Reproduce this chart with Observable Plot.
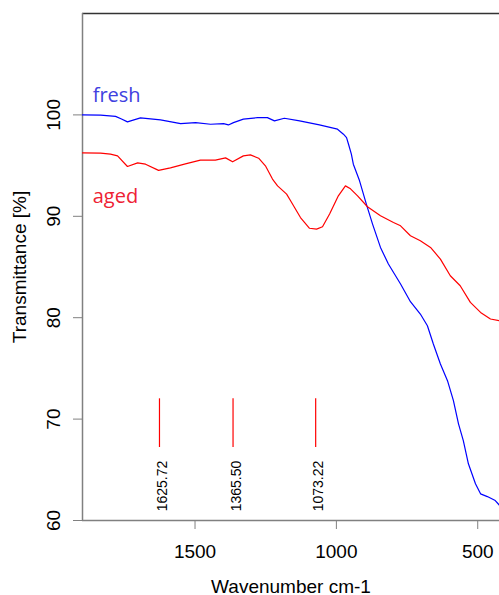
<!DOCTYPE html>
<html><head><meta charset="utf-8">
<script src="https://cdn.jsdelivr.net/npm/d3@7"></script>
<script src="https://cdn.jsdelivr.net/npm/@observablehq/plot@0.6"></script>
<style>html,body{margin:0;padding:0;background:#fff}#chart svg{display:block}</style>
</head><body><div id="chart"></div>
<script>
const freshWn = [1898,1834,1781,1760,1739,1693,1622,1551,1498,1445,1399,1382,1364,1329,1279,1244,1219,1184,1130,1060,996,975,964,957,947,940,918,894,872,844,816,773,738,703,678,657,632,607,586,568,551,533,508,490,466,438,423];
const freshT  = [100.0,99.97,99.85,99.6,99.31,99.70,99.51,99.14,99.24,99.08,99.14,99.01,99.24,99.58,99.73,99.73,99.41,99.67,99.41,99.01,98.59,98.10,97.76,97.11,96.13,95.14,93.50,91.20,89.23,86.93,85.29,83.32,81.58,80.36,79.21,77.41,75.44,73.79,71.82,69.53,67.88,65.59,63.62,62.63,62.36,61.97,61.5];
const agedWn = [1898,1834,1799,1774,1739,1703,1675,1629,1587,1534,1481,1428,1392,1367,1329,1304,1275,1251,1226,1208,1176,1162,1127,1095,1070,1049,1024,993,968,950,925,890,844,798,773,738,703,667,632,597,562,526,490,455,423];
const agedT  = [96.26,96.23,96.13,95.96,94.91,95.27,95.14,94.53,94.78,95.17,95.54,95.54,95.76,95.37,95.96,96.06,95.73,94.98,93.67,93.0,92.19,91.53,89.88,88.82,88.74,88.97,90.22,92.02,93.00,92.71,92.02,90.94,90.05,89.39,89.06,88.08,87.59,86.93,85.78,84.14,83.15,81.51,80.52,79.87,79.70];
const peakWn = [1625.72, 1365.50, 1073.22];
const peakLabels = ["1625.72", "1365.50", "1073.22"];
const seriesNames = ["fresh", "aged"];
const xTicks = [1500, 1000, 500];
const yTicks = [60, 70, 80, 90, 100];
const xDomain = [1898, 423];
const yDomain = [60, 110];

const fresh = freshWn.map((w, i) => ({w, t: freshT[i]}));
const aged = agedWn.map((w, i) => ({w, t: agedT[i]}));
const peaks = peakWn.map((w, i) => ({w, label: peakLabels[i]}));

const chart = Plot.plot({
  width: 499,
  height: 595,
  marginLeft: 82,
  marginRight: 0,
  marginTop: 13,
  marginBottom: 75,
  style: {fontFamily: "'Liberation Sans', Arial, sans-serif", background: "#fff", color: "#000"},
  x: {domain: xDomain},
  y: {domain: yDomain},
  marks: [
    Plot.ruleY([yDomain[1]], {stroke: "#333", strokeWidth: 1.5}),
    Plot.ruleX([xDomain[0]], {stroke: "#808080", strokeWidth: 1.5}),
    Plot.ruleY([yDomain[0]], {stroke: "#808080", strokeWidth: 1.5}),
    Plot.axisY({ticks: yTicks, tickFormat: d => String(d), tickSize: 9, tickRotate: -90, tickPadding: 14, fontSize: 19, stroke: "#808080",
      label: "Transmittance [%]", labelAnchor: "center", labelArrow: "none", labelOffset: 70}),
    Plot.axisX({ticks: xTicks, tickFormat: d => String(d), tickSize: 9, tickPadding: 15, fontSize: 19, stroke: "#808080",
      label: "Wavenumber cm-1", labelAnchor: "center", labelArrow: "none", labelOffset: 72}),
    Plot.line(fresh, {x: "w", y: "t", stroke: "blue", strokeWidth: 1.2, clip: true}),
    Plot.line(aged, {x: "w", y: "t", stroke: "red", strokeWidth: 1.2, clip: true}),
    Plot.ruleX(peaks, {x: "w", y1: 67.2, y2: 72.0, stroke: "#ff0000", strokeWidth: 1.2}),
    Plot.text(peaks, {x: "w", y: 60.9, text: "label", rotate: -90, textAnchor: "start", lineAnchor: "middle", dx: 3, fontSize: 14, fill: "#000"}),
    Plot.text([seriesNames[0]], {x: 1862, y: 101.3, text: d => d, textAnchor: "start", lineAnchor: "bottom", fontSize: 20, fill: "#4040e0", fontFamily: "'Open Sans', sans-serif"}),
    Plot.text([seriesNames[1]], {x: 1862, y: 91.3, text: d => d, textAnchor: "start", lineAnchor: "bottom", fontSize: 20, fill: "#ee2233", fontFamily: "'Open Sans', sans-serif"})
  ]
});
document.getElementById("chart").appendChild(chart);
</script>
</body></html>
